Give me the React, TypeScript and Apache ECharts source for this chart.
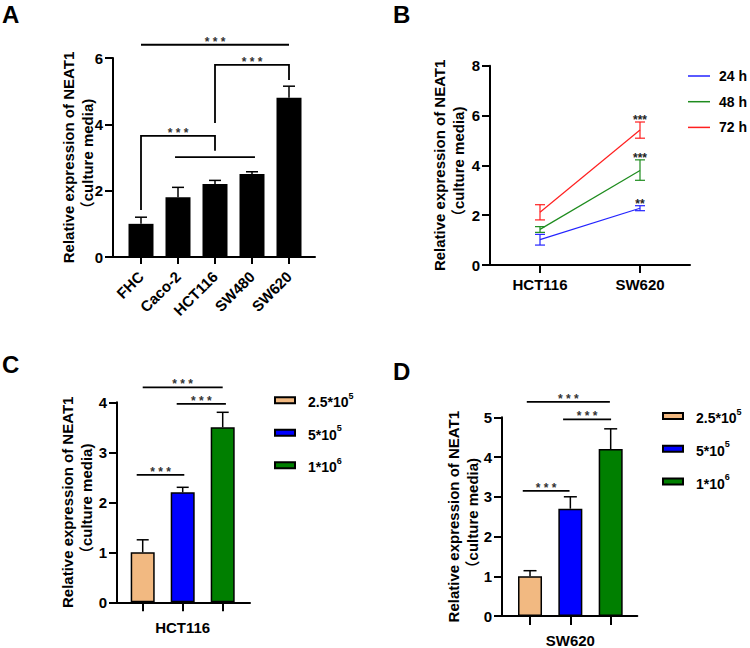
import React, { useEffect, useRef } from 'react';
import * as echarts from 'echarts';

const FONT = 'Arial, "Liberation Sans", "Noto Sans CJK SC", sans-serif';

// ---------- Panel A ----------
const cellLinesA = ['FHC', 'Caco-2', 'HCT116', 'SW480', 'SW620'];
const meanA = [1.0, 1.8, 2.2, 2.5, 4.8];
const errTopA = [1.2, 2.1, 2.31, 2.57, 5.15];
// [fromCategory, toCategory, level, leftFoot, rightFoot, label]
const bracketsA: any[] = [
  [0, 4, 6.4, null, null, '* * *'],
  [2, 4, 5.79, 4.04, 5.34, '* * *'],
  [0, 2, 3.65, 1.42, 3.2, '* * *'],
  [0.92, 3.08, 3.01, null, null, ''],
];

// ---------- Panel B ----------
const cellLinesB = ['HCT116', 'SW620'];
const timePoints = ['24 h', '48 h', '72 h'];
const meanB24 = [1.02, 2.28];
const loB24 = [0.8, 2.18];
const hiB24 = [1.23, 2.38];
const starsB24 = ['', '**'];
const meanB48 = [1.43, 3.79];
const loB48 = [1.31, 3.4];
const hiB48 = [1.54, 4.22];
const starsB48 = ['', '***'];
const meanB72 = [2.12, 5.42];
const loB72 = [1.81, 5.09];
const hiB72 = [2.42, 5.74];
const starsB72 = ['', '***'];

// ---------- Panels C & D ----------
const densities = ['2.5*10^5', '5*10^5', '1*10^6'];
const meanC = [1.0, 2.2, 3.5];
const errTopC = [1.25, 2.3, 3.8];
const bracketsC: any[] = [
  [0, 2, 4.3, null, null, '* * *'],
  [0.85, 2.08, 3.97, null, null, '* * *'],
  [-0.15, 1.04, 2.55, null, null, '* * *'],
];
const meanD = [1.0, 2.7, 4.2];
const errTopD = [1.14, 3.0, 4.71];
const bracketsD: any[] = [
  [-0.08, 1.98, 5.39, null, null, '* * *'],
  [0.82, 2.01, 4.95, null, null, '* * *'],
  [-0.18, 0.98, 3.15, null, null, '* * *'],
];

const densityColors = ['#F2B981', '#0000FF', '#007F00'];
const timeColors = ['#2323FF', '#1E8C1E', '#FF1F1F'];

const Y_NAME = 'Relative expression of NEAT1\n（culture media)';

const seg = (x1: number, y1: number, x2: number, y2: number, color: string, lw: number) => ({
  type: 'line',
  shape: { x1, y1, x2, y2 },
  style: { stroke: color, lineWidth: lw },
});

const upErr = (cap: number) => (params: any, api: any) => {
  const x = api.value(0);
  const pm = api.coord([x, api.value(1)]);
  const pt = api.coord([x, api.value(2)]);
  return {
    type: 'group',
    children: [
      seg(pm[0], pm[1], pt[0], pt[1], '#000', 1.5),
      seg(pt[0] - cap, pt[1], pt[0] + cap, pt[1], '#000', 1.5),
    ],
  };
};

const bothErr = (color: string, labels: string[]) => (params: any, api: any) => {
  const x = api.value(0);
  const lo = api.coord([x, api.value(1)]);
  const hi = api.coord([x, api.value(2)]);
  const cap = 5;
  const children: any[] = [
    seg(lo[0], lo[1], hi[0], hi[1], color, 1.2),
    seg(lo[0] - cap, lo[1], lo[0] + cap, lo[1], color, 1.2),
    seg(hi[0] - cap, hi[1], hi[0] + cap, hi[1], color, 1.2),
  ];
  const t = labels[params.dataIndex];
  if (t) {
    children.push({
      type: 'text',
      x: hi[0],
      y: hi[1] - 2,
      style: {
        text: t,
        fontSize: 12,
        fontWeight: 'bold',
        fontFamily: FONT,
        fill: '#222',
        align: 'center',
        verticalAlign: 'middle',
      },
    });
  }
  return { type: 'group', children };
};

const bracketRender = (list: any[]) => (params: any, api: any) => {
  const b = list[params.dataIndex];
  const band = api.size([1, 0])[0];
  const x0 = api.coord([0, 0])[0];
  const xa = x0 + b[0] * band;
  const xb = x0 + b[1] * band;
  const yl = api.coord([0, b[2]])[1];
  const pts: number[][] = [];
  if (b[3] != null) pts.push([xa, api.coord([0, b[3]])[1]]);
  pts.push([xa, yl]);
  pts.push([xb, yl]);
  if (b[4] != null) pts.push([xb, api.coord([0, b[4]])[1]]);
  const children: any[] = [
    { type: 'polyline', shape: { points: pts }, style: { stroke: '#000', lineWidth: 1.8, fill: null } },
  ];
  if (b[5]) {
    children.push({
      type: 'text',
      x: (xa + xb) / 2,
      y: yl - 3,
      style: {
        text: b[5],
        fontSize: 12,
        fontWeight: 'bold',
        fontFamily: FONT,
        fill: '#333',
        align: 'center',
        verticalAlign: 'middle',
      },
    });
  }
  return { type: 'group', children };
};

const boldText = { fontFamily: FONT, fontWeight: 'bold', fontSize: 15, color: '#000' };

const frameX = (gridIndex: number) => ({
  type: 'value',
  gridIndex,
  min: 0,
  max: 1,
  axisLine: { show: true, lineStyle: { color: '#000', width: 2 } },
  axisTick: { show: false },
  axisLabel: { show: false },
  splitLine: { show: false },
});

const frameY = (gridIndex: number, max: number, nameGap: number) => ({
  type: 'value',
  gridIndex,
  min: 0,
  max,
  interval: max === 6 || max === 8 ? 2 : 1,
  name: Y_NAME,
  nameLocation: 'middle',
  nameRotate: 90,
  nameGap,
  nameMoveOverlap: false,
  nameTextStyle: { ...boldText, lineHeight: 19 },
  axisLine: { show: true, lineStyle: { color: '#000', width: 2 } },
  axisTick: { show: true, length: 8, lineStyle: { color: '#000', width: 2 } },
  axisLabel: { ...boldText, margin: 10 },
  splitLine: { show: false },
});

const hiddenY = (gridIndex: number, max: number) => ({
  type: 'value',
  gridIndex,
  min: 0,
  max,
  show: false,
});

const legendRich = {
  b: { fontFamily: FONT, fontWeight: 'bold', fontSize: 14, color: '#000', lineHeight: 18, verticalAlign: 'bottom' },
  sup: { fontFamily: FONT, fontWeight: 'bold', fontSize: 9, color: '#000', lineHeight: 10, verticalAlign: 'top' },
};
const supFormatter = (name: string) => {
  const [base, exp] = name.split('^');
  return `{b|${base}}{sup|${exp}}`;
};

const gridBox = (left: number, top: number, width: number, height: number) => ({
  left,
  top,
  width,
  height,
  outerBoundsMode: 'none',
  containLabel: false,
});

export default function App() {
  const ref = useRef<HTMLDivElement>(null);
  useEffect(() => {
    if (!ref.current) return;
    const chart = echarts.init(ref.current, null, { renderer: 'svg' });

    const densitySeries = (xAxisIndex: number, yAxisIndex: number, means: number[]) =>
      densities.map((name, i) => ({
        type: 'bar',
        name,
        xAxisIndex,
        yAxisIndex,
        barWidth: 24,
        barGap: '-100%',
        data: means.map((v, j) => (j === i ? v : '-')),
        itemStyle: { color: densityColors[i], borderColor: '#000', borderWidth: 1.5 },
        z: 2,
      }));

    const timeSeries = [
      { m: meanB24, lo: loB24, hi: hiB24, s: starsB24 },
      { m: meanB48, lo: loB48, hi: hiB48, s: starsB48 },
      { m: meanB72, lo: loB72, hi: hiB72, s: starsB72 },
    ];

    const catAxisBase = {
      nameMoveOverlap: false,
      nameTextStyle: boldText,
    };

    const option: any = {
      animation: false,
      textStyle: { fontFamily: FONT },
      grid: [
        gridBox(113, 58, 202, 199),
        gridBox(122.5, 58, 185, 199),
        gridBox(490, 65.7, 200, 199.3),
        gridBox(117, 402.3, 133, 200),
        gridBox(122.7, 402.3, 120, 200),
        gridBox(502, 417.3, 135.3, 198.7),
        gridBox(509.85, 417.3, 121, 198.7),
      ],
      xAxis: [
        frameX(0),
        {
          ...catAxisBase,
          type: 'category',
          gridIndex: 1,
          data: cellLinesA,
          axisLine: { show: false },
          axisTick: { show: true, alignWithLabel: true, length: 7, interval: 0, lineStyle: { color: '#000', width: 2 } },
          axisLabel: { ...boldText, rotate: 45, margin: 17, interval: 0 },
        },
        {
          ...catAxisBase,
          type: 'category',
          gridIndex: 2,
          data: cellLinesB,
          axisLine: { show: true, lineStyle: { color: '#000', width: 2 } },
          axisTick: { show: true, alignWithLabel: true, length: 8, lineStyle: { color: '#000', width: 2 } },
          axisLabel: { ...boldText, margin: 12 },
        },
        frameX(3),
        {
          ...catAxisBase,
          type: 'category',
          gridIndex: 4,
          data: densities,
          name: 'HCT116',
          nameLocation: 'middle',
          nameGap: 18,
          axisLine: { show: false },
          axisTick: { show: true, alignWithLabel: true, length: 9, interval: 0, lineStyle: { color: '#000', width: 2 } },
          axisLabel: { show: false, interval: 0 },
        },
        frameX(5),
        {
          ...catAxisBase,
          type: 'category',
          gridIndex: 6,
          data: densities,
          name: 'SW620',
          nameLocation: 'middle',
          nameGap: 16.5,
          axisLine: { show: false },
          axisTick: { show: true, alignWithLabel: true, length: 9, interval: 0, lineStyle: { color: '#000', width: 2 } },
          axisLabel: { show: false, interval: 0 },
        },
      ],
      yAxis: [
        frameY(0, 6, 16.5),
        hiddenY(1, 6),
        frameY(2, 8, 22.5),
        frameY(3, 4, 21.5),
        hiddenY(4, 4),
        frameY(5, 5, 20.5),
        hiddenY(6, 5),
      ],
      legend: [
        {
          data: timePoints,
          orient: 'vertical',
          left: 688,
          top: 69,
          padding: 0,
          icon: 'rect',
          itemWidth: 22,
          itemHeight: 1.5,
          itemGap: 11.7,
          selectedMode: false,
          textStyle: { fontFamily: FONT, fontWeight: 'bold', fontSize: 14, color: '#000', lineHeight: 14, padding: [0, 0, 0, 4] },
        },
        {
          data: densities,
          orient: 'vertical',
          left: 274,
          top: 391.2,
          padding: 0,
          icon: 'rect',
          itemWidth: 20,
          itemHeight: 6,
          itemGap: 14.5,
          selectedMode: false,
          formatter: supFormatter,
          textStyle: { rich: legendRich, padding: [0, 0, 0, 8] },
        },
        {
          data: densities,
          orient: 'vertical',
          left: 662,
          top: 407,
          padding: 0,
          icon: 'rect',
          itemWidth: 20,
          itemHeight: 6,
          itemGap: 14.8,
          selectedMode: false,
          formatter: supFormatter,
          textStyle: { rich: legendRich, padding: [0, 0, 0, 8] },
        },
      ],
      graphic: [
        { type: 'text', x: 2, y: 14, style: { text: 'A', fontSize: 24, fontWeight: 'bold', fontFamily: FONT, fill: '#000', verticalAlign: 'middle' } },
        { type: 'text', x: 393, y: 14, style: { text: 'B', fontSize: 24, fontWeight: 'bold', fontFamily: FONT, fill: '#000', verticalAlign: 'middle' } },
        { type: 'text', x: 2, y: 364, style: { text: 'C', fontSize: 24, fontWeight: 'bold', fontFamily: FONT, fill: '#000', verticalAlign: 'middle' } },
        { type: 'text', x: 393, y: 371.5, style: { text: 'D', fontSize: 24, fontWeight: 'bold', fontFamily: FONT, fill: '#000', verticalAlign: 'middle' } },
      ],
      series: [
        // Panel A
        {
          type: 'bar',
          name: 'A',
          xAxisIndex: 1,
          yAxisIndex: 1,
          barWidth: 25,
          data: meanA,
          itemStyle: { color: '#000' },
        },
        {
          type: 'custom',
          xAxisIndex: 1,
          yAxisIndex: 1,
          data: meanA.map((m, i) => [i, m, errTopA[i]]),
          renderItem: upErr(6),
          z: 3,
        },
        {
          type: 'custom',
          xAxisIndex: 1,
          yAxisIndex: 1,
          data: bracketsA.map((b) => [0, b[2]]),
          renderItem: bracketRender(bracketsA),
          z: 3,
        },
        // Panel B
        ...timeSeries.map((t, k) => ({
          type: 'line',
          name: timePoints[k],
          xAxisIndex: 2,
          yAxisIndex: 2,
          data: t.m,
          symbol: 'none',
          lineStyle: { color: timeColors[k], width: 1.2 },
          itemStyle: { color: timeColors[k] },
        })),
        ...timeSeries.map((t, k) => ({
          type: 'custom',
          xAxisIndex: 2,
          yAxisIndex: 2,
          data: t.m.map((_, i) => [i, t.lo[i], t.hi[i]]),
          renderItem: bothErr(timeColors[k], t.s),
          z: 3,
        })),
        // Panel C
        ...densitySeries(4, 4, meanC),
        {
          type: 'custom',
          xAxisIndex: 4,
          yAxisIndex: 4,
          data: meanC.map((m, i) => [i, m, errTopC[i]]),
          renderItem: upErr(6),
          z: 3,
        },
        {
          type: 'custom',
          xAxisIndex: 4,
          yAxisIndex: 4,
          data: bracketsC.map((b) => [0, b[2]]),
          renderItem: bracketRender(bracketsC),
          z: 3,
        },
        // Panel D
        ...densitySeries(6, 6, meanD),
        {
          type: 'custom',
          xAxisIndex: 6,
          yAxisIndex: 6,
          data: meanD.map((m, i) => [i, m, errTopD[i]]),
          renderItem: upErr(6.5),
          z: 3,
        },
        {
          type: 'custom',
          xAxisIndex: 6,
          yAxisIndex: 6,
          data: bracketsD.map((b) => [0, b[2]]),
          renderItem: bracketRender(bracketsD),
          z: 3,
        },
      ],
    };
    chart.setOption(option);
    return () => chart.dispose();
  }, []);
  return (
    <div
      ref={ref}
      style={{ position: 'absolute', left: 0, top: 0, width: 750, height: 648, background: '#fff' }}
    />
  );
}
